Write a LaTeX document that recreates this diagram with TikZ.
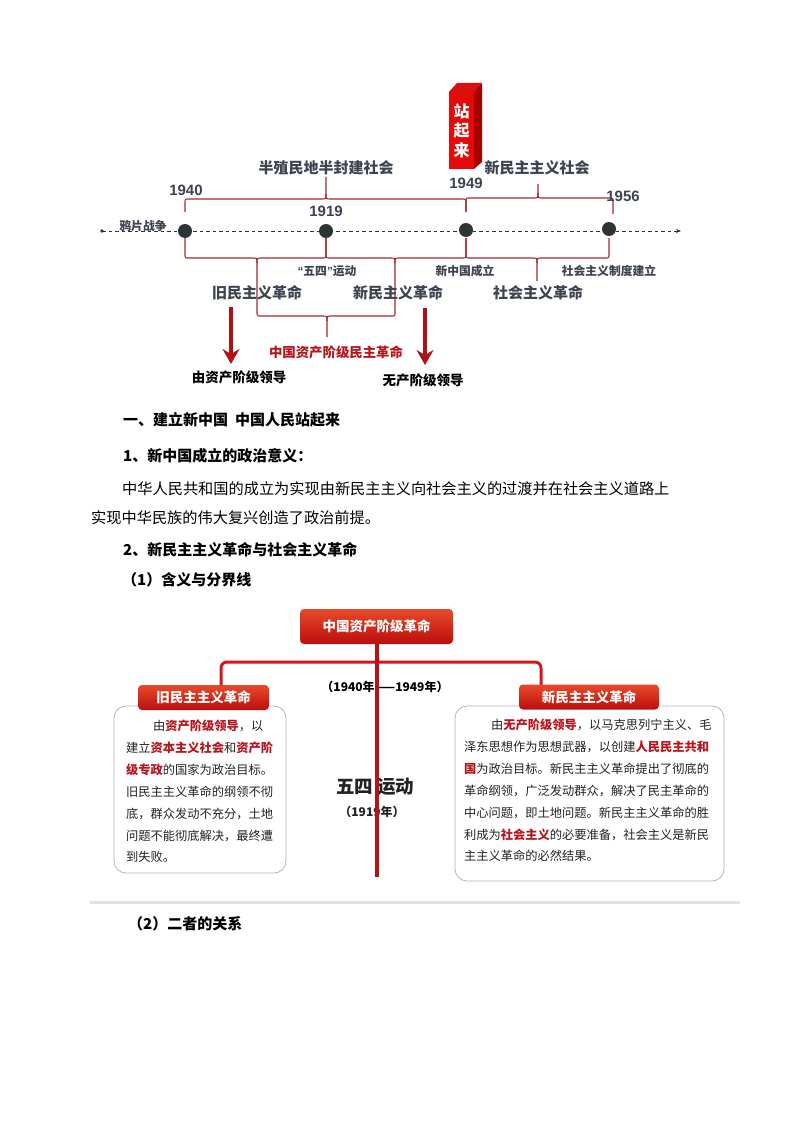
\documentclass[tikz,border=0pt]{standalone}
\usepackage{fontspec}
\setmainfont{Noto Sans CJK SC}
\newfontfamily\arialf{Liberation Sans}
\usetikzlibrary{arrows.meta}
\definecolor{tlgray}{HTML}{3D4350}
\definecolor{bracered}{HTML}{A32A2E}
\definecolor{dotc}{HTML}{2E3436}
\definecolor{redtxt}{HTML}{B8141C}
\definecolor{arrowred}{HTML}{B01116}
\definecolor{boxtop}{HTML}{E84A29}
\definecolor{boxbot}{HTML}{BC0D0D}
\definecolor{front3d}{HTML}{E40A0A}
\definecolor{side3d}{HTML}{A80000}
\definecolor{top3d}{HTML}{D81010}
\definecolor{connred}{HTML}{D2161B}
\definecolor{vlinered}{HTML}{B3141A}
\definecolor{boxgray}{HTML}{B5B5B5}
\definecolor{sepgray}{HTML}{E2E2E2}
\definecolor{bodytxt}{HTML}{222222}
\newcommand\redb[1]{{\color{redtxt}\bfseries #1}}
\begin{document}
\begin{tikzpicture}[x=1pt,y=-1pt,
  yearlbl/.style={text=tlgray, font=\arialf\bfseries\fontsize{15}{15}\selectfont, inner sep=0},
  biglbl/.style={text=tlgray, font=\bfseries\fontsize{15}{15}\selectfont, inner sep=0},
  smalllbl/.style={text=tlgray, font=\bfseries\fontsize{11.8}{12}\selectfont, inner sep=0},
  bracepath/.style={draw=bracered, line width=1.1},
  dotnode/.style={circle, fill=dotc, minimum size=14, inner sep=0},
  bigarrow/.style={draw=arrowred, line width=3.2, -{Stealth[length=15pt,width=17pt,inset=5pt]}},
  blacklbl/.style={text=black, font=\bfseries\fontsize{13.5}{14}\selectfont, inner sep=0},
  secbold/.style={anchor=west, text=black, font=\bfseries\fontsize{15}{15}\selectfont, inner sep=0},
  secreg/.style={anchor=west, text=black, font=\fontsize{15.2}{15}\selectfont, inner sep=0},
  redbox/.style={rounded corners=4, top color=boxtop, bottom color=boxbot, draw=none, text=white, font=\bfseries\fontsize{13.5}{14}\selectfont, inner sep=0},
  conn/.style={draw=connred, line width=3},
  vline/.style={draw=vlinered, line width=3.2},
  cbox/.style={draw=boxgray, line width=0.8, rounded corners=12, fill=white, inner sep=0},
  boxline/.style={anchor=base west, text=bodytxt, font=\fontsize{12.25}{14}\selectfont, inner sep=0}
]
\useasboundingbox (0,0) rectangle (794,1123);
\fill[white] (0,0) rectangle (794,1123);

% ---------- timeline ----------
\coordinate (tlstart) at (102,231);
\coordinate (tlend) at (681,231);
\fill[dotc] (tlstart) circle (1.8);
\draw[dotc, line width=0.8, dash pattern=on 3.5pt off 3pt, -{Stealth[length=5pt,width=4pt]}] (tlstart) -- (tlend);

% braces above
\draw[bracepath] (185,212) -- (185,203) .. controls (185,199) .. (189,199) -- (321,199) .. controls (326,199) .. (326,194) -- (326,177);
\draw[bracepath] (326,194) .. controls (326,199) .. (331,199) -- (461,199) .. controls (466,199) .. (466,203) -- (466,212);
\draw[bracepath] (466,212) -- (466,202) .. controls (466,198) .. (470,198) -- (533,198) .. controls (538,198) .. (538,193) -- (538,184);
\draw[bracepath] (538,193) .. controls (538,198) .. (543,198) -- (608,198) .. controls (613,198) .. (613,202) -- (613,214);
% braces below
\draw[bracepath] (185,238) -- (185,254) .. controls (185,258) .. (189,258) -- (252,258) .. controls (257,258) .. (257,263) -- (257,312);
\draw[bracepath] (257,263) .. controls (257,258) .. (262,258) -- (322,258) .. controls (326,258) .. (326,254) -- (326,238);
\draw[bracepath] (326,238) -- (326,254) .. controls (326,258) .. (330,258) -- (390,258) .. controls (395,258) .. (395,263) -- (395,312);
\draw[bracepath] (395,263) .. controls (395,258) .. (400,258) -- (462,258) .. controls (466,258) .. (466,254) -- (466,238);
\draw[bracepath] (466,238) -- (466,254) .. controls (466,258) .. (470,258) -- (532,258) .. controls (537,258) .. (537,263) -- (537,281);
\draw[bracepath] (537,263) .. controls (537,258) .. (542,258) -- (605,258) .. controls (609,258) .. (609,254) -- (609,238);
\draw[bracepath] (257,312) .. controls (257,316) .. (261,316) -- (322,316) .. controls (327,316) .. (327,321) -- (327,337);
\draw[bracepath] (327,321) .. controls (327,316) .. (332,316) -- (391,316) .. controls (395,316) .. (395,312);

% dots
\node[dotnode] (d1940) at (185,231) {};
\node[dotnode] (d1919) at (326,231) {};
\node[dotnode] (d1949) at (466,230) {};
\node[dotnode] (d1956) at (609,229) {};

% labels
\node[smalllbl] (yapian) at (143,226) {鸦片战争};
\node[yearlbl] (y1940) at (186,190) {1940};
\node[yearlbl] (y1919) at (326,211) {1919};
\node[yearlbl] (y1949) at (466,183) {1949};
\node[yearlbl] (y1956) at (623,196) {1956};
\node[biglbl] (bzm) at (326,168) {半殖民地半封建社会};
\node[biglbl] (xmzs) at (537,168) {新民主主义社会};
\node[smalllbl] (wusi) at (327,271) {{\arialf “}五四{\arialf ”}运动};
\node[smalllbl] (xzgcl) at (465,271) {新中国成立};
\node[smalllbl] (shzy) at (609,271) {社会主义制度建立};
\node[biglbl] (jmz) at (257,293) {旧民主义革命};
\node[biglbl] (xmz) at (398,293) {新民主义革命};
\node[biglbl] (shgm) at (538,293) {社会主义革命};
\node[text=redtxt, font=\bfseries\fontsize{13.4}{14}\selectfont, inner sep=0] (zgzc) at (336,352) {中国资产阶级民主革命};

% 3D block
\fill[top3d] (449,92) -- (457,83) -- (482,83) -- (474,92) -- cycle;
\fill[side3d] (474,92) -- (482,83) -- (482,162) -- (474,169) -- cycle;
\node[fill=front3d, minimum width=25, minimum height=77, inner sep=0, text=white, align=center, font=\bfseries\fontsize{16}{19.5}\selectfont] (zql) at (461.5,130.5) {站\\起\\来};

% arrows
\coordinate (a1s) at (231,307);
\coordinate (a1e) at (231,364);
\coordinate (a2s) at (425,308);
\coordinate (a2e) at (425,365);
\draw[bigarrow] (a1s) -- (a1e);
\draw[bigarrow] (a2s) -- (a2e);
\node[blacklbl] (zcjj) at (239,377) {由资产阶级领导};
\node[blacklbl] (wcjj) at (423,380) {无产阶级领导};

% ---------- text section ----------
\node[secbold] (s1) at (123,420) {一、建立新中国\hspace{7pt}中国人民站起来};
\node[secbold] (s2) at (123,456) {1、新中国成立的政治意义：};
\node[secreg] (s3) at (122,489) {中华人民共和国的成立为实现由新民主主义向社会主义的过渡并在社会主义道路上};
\node[secreg] (s4) at (91,518) {实现中华民族的伟大复兴创造了政治前提。};
\node[secbold] (s5) at (123,550) {2、新民主主义革命与社会主义革命};
\node[secbold] (s6) at (122,580) {（1）含义与分界线};

% ---------- diagram 2 ----------
\node[redbox, minimum width=153, minimum height=35] (topbox) at (376.5,626.5) {中国资产阶级革命};
\coordinate (jn) at (378,662);
\coordinate (cl) at (221,688);
\coordinate (cr) at (541,688);
\draw[conn] (topbox.south) -- (jn);
\draw[conn, rounded corners=6] (cl) |- (jn) -| (cr);

\node[cbox, minimum width=172, minimum height=167] (lbox) at (200,789.5) {};
\node[cbox, minimum width=269, minimum height=175] (rbox) at (589.5,793.5) {};
\node[redbox, minimum width=131, minimum height=25] (lhead) at (203.5,697.5) {旧民主主义革命};
\node[redbox, minimum width=140, minimum height=25] (rhead) at (589,697) {新民主主义革命};

\node[text=black, font=\bfseries\fontsize{12}{12}\selectfont, inner sep=0] (yrs) at (385,687) {（1940年——1949年）};
\node[text=bodytxt, font=\bfseries\fontsize{18.5}{19}\selectfont, inner sep=0] (wsyd) at (375,787) {五四\hspace{4pt}运动};
\node[text=bodytxt, font=\bfseries\fontsize{12}{12}\selectfont, inner sep=0] (y1919b) at (372,812) {（1919年）};

\coordinate (vend) at (377,877);
\draw[vline] (topbox.south -| vend) -- (vend);

% left box text
\node[boxline] (l1) at (126,730.5) {\hspace{27pt}由\redb{资产阶级领导}，以};
\node[boxline] (l2) at (126,752.4) {建立\redb{资本主义社会}和\redb{资产阶}};
\node[boxline] (l3) at (126,774.3) {\redb{级专政}的国家为政治目标。};
\node[boxline] (l4) at (126,796.2) {旧民主主义革命的纲领不彻};
\node[boxline] (l5) at (126,818.1) {底，群众发动不充分，土地};
\node[boxline] (l6) at (126,840.0) {问题不能彻底解决，最终遭};
\node[boxline] (l7) at (126,861.9) {到失败。};

% right box text
\node[boxline] (r1) at (464,729.5) {\hspace{27pt}由\redb{无产阶级领导}，以马克思列宁主义、毛};
\node[boxline] (r2) at (464,751.4) {泽东思想作为思想武器，以创建\redb{人民民主共和}};
\node[boxline] (r3) at (464,773.3) {\redb{国}为政治目标。新民主主义革命提出了彻底的};
\node[boxline] (r4) at (464,795.2) {革命纲领，广泛发动群众，解决了民主革命的};
\node[boxline] (r5) at (464,817.1) {中心问题，即土地问题。新民主主义革命的胜};
\node[boxline] (r6) at (464,839.0) {利成为\redb{社会主义}的必要准备，社会主义是新民};
\node[boxline] (r7) at (464,860.9) {主主义革命的必然结果。};

% separator and last heading
\coordinate (sepl) at (90,902);
\coordinate (sepr) at (740,902);
\draw[sepgray, line width=3] (sepl) -- (sepr);
\node[secbold] (s7) at (128,924) {（2）二者的关系};
\end{tikzpicture}
\end{document}
